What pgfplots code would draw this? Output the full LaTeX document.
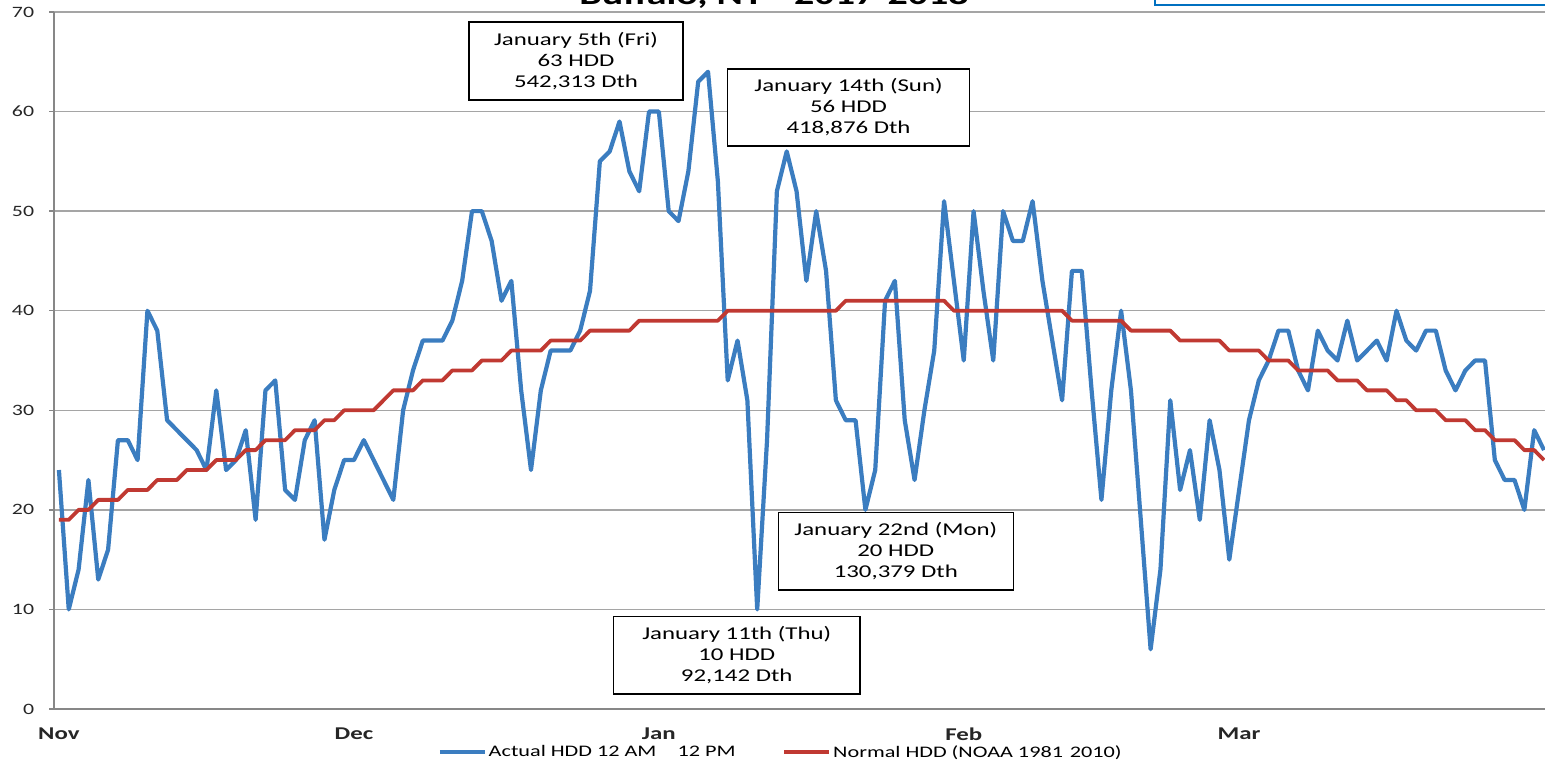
\documentclass[border=0pt]{standalone}
\usepackage{fontspec}
\setmainfont{Carlito}[FakeStretch=1.38]
\usepackage{pgfplots}
\usepackage{pgfplotstable}
\pgfplotsset{compat=1.18}
\definecolor{hddblue}{RGB}{59,125,192}
\definecolor{hddred}{RGB}{192,57,50}
\definecolor{gridgray}{RGB}{165,165,165}
\definecolor{axisgray}{RGB}{135,135,135}
\definecolor{boxblue}{RGB}{0,112,192}

\pgfplotstableread{
d v
0 24
1 10
2 14
3 23
4 13
5 16
6 27
7 27
8 25
9 40
10 38
11 29
12 28
13 27
14 26
15 24
16 32
17 24
18 25
19 28
20 19
21 32
22 33
23 22
24 21
25 27
26 29
27 17
28 22
29 25
30 25
31 27
32 25
33 23
34 21
35 30
36 34
37 37
38 37
39 37
40 39
41 43
42 50
43 50
44 47
45 41
46 43
47 32
48 24
49 32
50 36
51 36
52 36
53 38
54 42
55 55
56 56
57 59
58 54
59 52
60 60
61 60
62 50
63 49
64 54
65 63
66 64
67 53
68 33
69 37
70 31
71 10
72 27
73 52
74 56
75 52
76 43
77 50
78 44
79 31
80 29
81 29
82 20
83 24
84 41
85 43
86 29
87 23
88 30
89 36
90 51
91 43
92 35
93 50
94 42
95 35
96 50
97 47
98 47
99 51
100 43
101 37
102 31
103 44
104 44
105 32
106 21
107 32
108 40
109 32
110 19
111 6
112 14
113 31
114 22
115 26
116 19
117 29
118 24
119 15
120 22
121 29
122 33
123 35
124 38
125 38
126 34
127 32
128 38
129 36
130 35
131 39
132 35
133 36
134 37
135 35
136 40
137 37
138 36
139 38
140 38
141 34
142 32
143 34
144 35
145 35
146 25
147 23
148 23
149 20
150 28
151 26
}\actualtab

\pgfplotstableread{
d v
0 19
1 19
2 20
3 20
4 21
5 21
6 21
7 22
8 22
9 22
10 23
11 23
12 23
13 24
14 24
15 24
16 25
17 25
18 25
19 26
20 26
21 27
22 27
23 27
24 28
25 28
26 28
27 29
28 29
29 30
30 30
31 30
32 30
33 31
34 32
35 32
36 32
37 33
38 33
39 33
40 34
41 34
42 34
43 35
44 35
45 35
46 36
47 36
48 36
49 36
50 37
51 37
52 37
53 37
54 38
55 38
56 38
57 38
58 38
59 39
60 39
61 39
62 39
63 39
64 39
65 39
66 39
67 39
68 40
69 40
70 40
71 40
72 40
73 40
74 40
75 40
76 40
77 40
78 40
79 40
80 41
81 41
82 41
83 41
84 41
85 41
86 41
87 41
88 41
89 41
90 41
91 40
92 40
93 40
94 40
95 40
96 40
97 40
98 40
99 40
100 40
101 40
102 40
103 39
104 39
105 39
106 39
107 39
108 39
109 38
110 38
111 38
112 38
113 38
114 37
115 37
116 37
117 37
118 37
119 36
120 36
121 36
122 36
123 35
124 35
125 35
126 34
127 34
128 34
129 34
130 33
131 33
132 33
133 32
134 32
135 32
136 31
137 31
138 30
139 30
140 30
141 29
142 29
143 29
144 28
145 28
146 27
147 27
148 27
149 26
150 26
151 25
}\normaltab

\begin{document}
\begin{tikzpicture}
\begin{axis}[
  at={(54pt,54pt)}, anchor=south west,
  scale only axis, width=1491pt, height=697pt,
  xmin=-0.5, xmax=151.1, ymin=0, ymax=70,
  axis x line*=bottom, axis y line*=left,
  axis line style={axisgray, line width=1.3pt},
  ytick={0,10,...,70},
  ymajorgrids=true,
  grid style={gridgray, line width=1.3pt},
  xtick={0,30,61,92,120},
  xticklabels={Nov,Dec,Jan,Feb,Mar},
  minor xtick={-0.5,4.5,...,149.5},
  xtick style={draw=none},
  minor x tick style={axisgray, line width=1.3pt},
  ytick style={axisgray, line width=1.3pt},
  tick align=outside,
  major tick length=5pt,
  minor tick length=6pt,
  /pgf/number format/assume math mode=true,
  yticklabel style={font=\fontsize{15.8}{18}\selectfont, text=black!85, anchor=east, inner sep=0pt, xshift=-14.7pt},
  xticklabel style={font=\bfseries\fontsize{18}{20}\selectfont, text=black!85, anchor=north, inner sep=0pt, yshift=-13.7pt},
  legend style={at={(axis description cs:0.2575,-0.0617)}, anchor=west, draw=none, fill=none, inner sep=0pt,
     font=\fontsize{16.1}{18}\selectfont, legend columns=2,
     /tikz/every even column/.append style={column sep=47pt},
     /tikz/every odd column/.append style={column sep=2pt},
     nodes={inner sep=0pt}},
  legend image code/.code={\draw[#1, line width=3.6pt] (0pt,0pt) -- (45pt,0pt);},
  clip=true,
]
\addplot[hddblue, line width=4.2pt, line join=round] table[x=d, y=v] {\actualtab};
\addlegendentry{Actual HDD 12 AM \hphantom{--} 12 PM}
\addplot[hddred, line width=3.8pt, line join=round] table[x=d, y=v] {\normaltab};
\addlegendentry{Normal HDD (NOAA 1981\hphantom{-}2010)}
\end{axis}

% title (cropped at top as in the reference)
\node[anchor=base, font=\bfseries\fontsize{29}{30}\selectfont, inner sep=0pt] at (774pt,758pt) {Buffalo, NY - 2017-2018};
% text box at top right (cropped)
\draw[boxblue, line width=2pt, fill=white] (1155pt,757.5pt) rectangle (1620pt,820pt);

% annotation boxes
\tikzset{annot/.style={draw=black, line width=1.5pt, fill=white, align=center, inner sep=0pt,
   font=\fontsize{18}{21}\selectfont}}
\node[annot, minimum width=214pt, minimum height=78pt] at (576pt,702pt) {January 5th (Fri)\\63 HDD\\542,313 Dth};
\node[annot, minimum width=241.6pt, minimum height=77pt] at (848.5pt,655.5pt) {January 14th (Sun)\\56 HDD\\418,876 Dth};
\node[annot, minimum width=235pt, minimum height=77.3pt] at (895.8pt,211.7pt) {January 22nd (Mon)\\20 HDD\\130,379 Dth};
\node[annot, minimum width=246.7pt, minimum height=77.3pt] at (736.7pt,107.7pt) {January 11th (Thu)\\10 HDD\\92,142 Dth};

\pgfresetboundingbox
\path[use as bounding box] (0pt,0pt) rectangle (1545pt,763pt);
\end{tikzpicture}
\end{document}
